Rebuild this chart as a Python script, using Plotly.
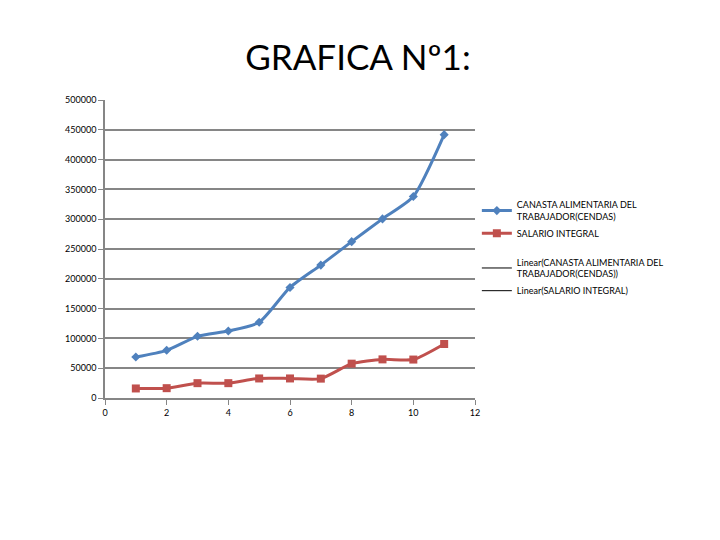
import plotly.graph_objects as go

x_vals = [1, 2, 3, 4, 5, 6, 7, 8, 9, 10, 11]
canasta = [68700, 80000, 103500, 112500, 127000, 185500, 223000, 262300, 300500, 338000, 441900]
salario = [16000, 16500, 24900, 24900, 32800, 32800, 32500, 57600, 64800, 64500, 90600]

name_canasta = "CANASTA ALIMENTARIA DEL<br>TRABAJADOR(CENDAS)"
name_salario = "SALARIO INTEGRAL"
name_lin_canasta = "Linear(CANASTA ALIMENTARIA DEL<br>TRABAJADOR(CENDAS))"
name_lin_salario = "Linear(SALARIO INTEGRAL)"

x_ticks = [0, 2, 4, 6, 8, 10, 12]
y_ticks = [0, 50000, 100000, 150000, 200000, 250000, 300000, 350000, 400000, 450000, 500000]

blue = "#4F81BD"
red = "#C0504D"
grid = "#868686"

fig = go.Figure()
fig.add_trace(go.Scatter(
    x=x_vals, y=canasta, name=name_canasta, mode="lines+markers", legendgroup="a",
    line=dict(color=blue, width=3, shape="spline", smoothing=0.6),
    marker=dict(symbol="diamond", size=7, color=blue),
))
fig.add_trace(go.Scatter(
    x=x_vals, y=salario, name=name_salario, mode="lines+markers", legendgroup="a",
    line=dict(color=red, width=3, shape="spline", smoothing=0.6),
    marker=dict(symbol="square", size=8, color=red),
))
fig.add_trace(go.Scatter(
    x=[None], y=[None], name=name_lin_canasta, mode="lines", legendgroup="b",
    line=dict(color="black", width=1),
))
fig.add_trace(go.Scatter(
    x=[None], y=[None], name=name_lin_salario, mode="lines", legendgroup="b",
    line=dict(color="black", width=1),
))

fig.update_layout(
    width=720, height=540,
    paper_bgcolor="white", plot_bgcolor="white",
    margin=dict(l=97, r=253, t=92, b=150),
    font=dict(family="Lato, Open Sans, sans-serif", size=9, color="black"),
    title=dict(text="GRAFICA Nº1:", x=0.486, xanchor="center", y=0.907, yanchor="middle",
               font=dict(family="Lato, Open Sans, sans-serif", size=35, color="black")),
    showlegend=True,
    legend=dict(x=1.005, xanchor="left", y=0.69, yanchor="top",
                font=dict(size=9), itemwidth=30, tracegroupgap=12,
                traceorder="grouped", bgcolor="rgba(0,0,0,0)"),
    xaxis=dict(range=[0, 12], tickvals=x_ticks, showgrid=False, zeroline=False,
               showline=True, linecolor=grid, linewidth=1.5, ticks="outside",
               tickcolor=grid, ticklen=5, tickfont=dict(size=9)),
    yaxis=dict(range=[0, 500000], tickvals=y_ticks, tickformat="d",
               showgrid=True, gridcolor=grid, gridwidth=2, zeroline=False,
               showline=True, linecolor=grid, linewidth=1.5, ticks="outside",
               tickcolor=grid, ticklen=5, tickfont=dict(size=9)),
)

fig.write_html("out.html")
